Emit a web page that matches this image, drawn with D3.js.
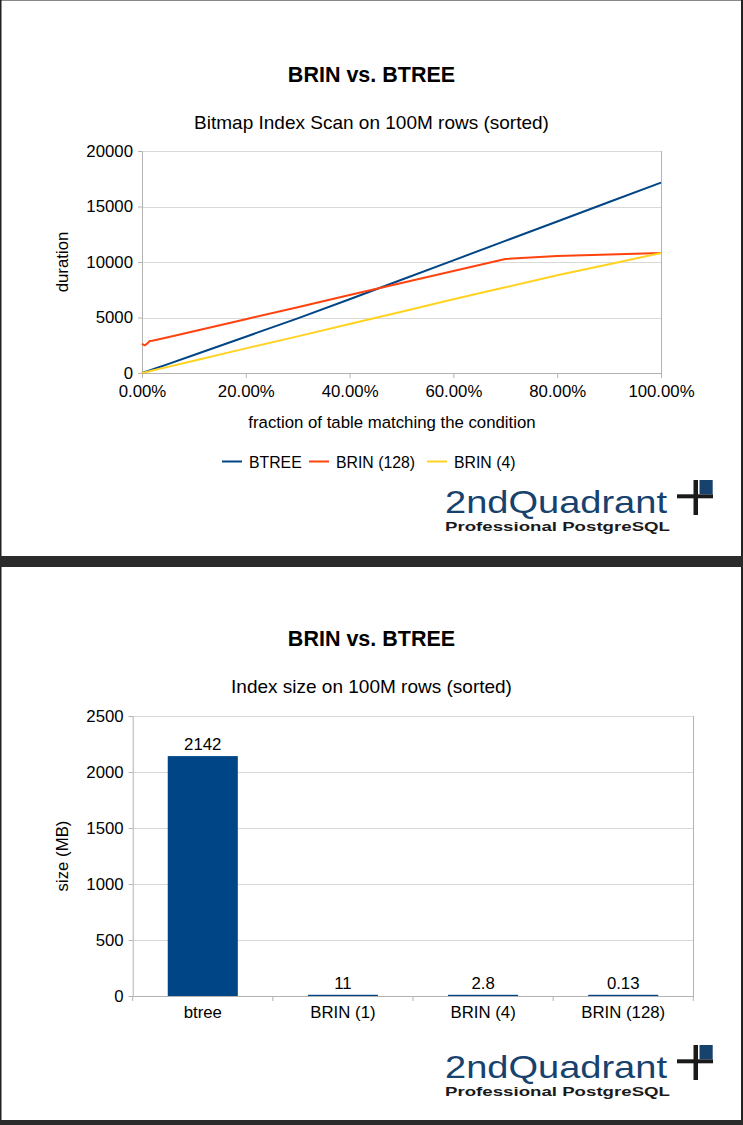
<!DOCTYPE html>
<html>
<head>
<meta charset="utf-8">
<script src="https://cdn.jsdelivr.net/npm/d3@7"></script>
<style>
  html, body { margin: 0; padding: 0; background: #fff; }
  svg { display: block; font-family: "Liberation Sans", Arial, sans-serif; }
</style>
</head>
<body>
<svg id="chart"></svg>
<script>
// line chart data (top slide)
const fractions = [0, 0.005, 0.01, 0.015, 0.02, 0.05, 0.1, 0.2, 0.3, 0.4, 0.5, 0.6, 0.7, 0.8, 0.9, 1.0];
const btree   = [0, 80, 160, 240, 320, 800, 1620, 3270, 4920, 6640, 8400, 10150, 11900, 13650, 15400, 17150];
const brin128 = [2620, 2490, 2650, 2880, 2900, 3225, 3770, 4850, 5930, 7020, 8100, 9190, 10270, 10540, 10680, 10810];
const brin4   = [0, 55, 110, 165, 220, 550, 1110, 2220, 3300, 4410, 5520, 6640, 7720, 8800, 9800, 10810];
const durationTicks = [0, 5000, 10000, 15000, 20000];
const fractionTicks = [0, 0.2, 0.4, 0.6, 0.8, 1.0];
const seriesNames = ['BTREE', 'BRIN (128)', 'BRIN (4)'];

// bar chart data (bottom slide)
const indexNames = ['btree', 'BRIN (1)', 'BRIN (4)', 'BRIN (128)'];
const indexSizes = [2142, 11, 2.8, 0.13];
const sizeLabels = ['2142', '11', '2.8', '0.13'];
const sizeTicks = [0, 500, 1000, 1500, 2000, 2500];

const W = 743, H = 1125;
const colors = ['#004586', '#ff420e', '#ffd320'];
const gridColor = '#d9d9d9';
const axisColor = '#b3b3b3';
const fs = 16.8;

const svg = d3.select('#chart').attr('width', W).attr('height', H);

// slide frames
svg.append('rect').attr('x', 0).attr('y', 0).attr('width', W).attr('height', H).attr('fill', '#fff');
svg.append('rect').attr('x', 0).attr('y', 0).attr('width', W).attr('height', 1).attr('fill', '#888');
svg.append('rect').attr('x', 0).attr('y', 0).attr('width', 1.5).attr('height', H).attr('fill', '#222');
svg.append('rect').attr('x', 741).attr('y', 0).attr('width', 2).attr('height', H).attr('fill', '#222');
svg.append('rect').attr('x', 0).attr('y', 556).attr('width', W).attr('height', 11).attr('fill', '#2b2b2b');
svg.append('rect').attr('x', 0).attr('y', 1120).attr('width', W).attr('height', 5).attr('fill', '#2b2b2b');

function titles(title, subtitle, y0) {
  svg.append('text').attr('x', 371.5).attr('y', y0)
    .attr('text-anchor', 'middle').attr('font-size', 21.5).attr('font-weight', 'bold')
    .attr('fill', '#000').text(title);
  svg.append('text').attr('x', 371.5).attr('y', y0 + 47)
    .attr('text-anchor', 'middle').attr('font-size', 19)
    .attr('fill', '#000').text(subtitle);
}

function logo(y0) {
  const g = svg.append('g').attr('transform', `translate(0,${y0})`);
  g.append('text').attr('x', 445).attr('y', 33)
    .attr('font-size', 31.5)
    .attr('textLength', 222).attr('lengthAdjust', 'spacingAndGlyphs')
    .attr('fill', '#17426e').text('2ndQuadrant');
  g.append('text').attr('x', 445).attr('y', 51)
    .attr('font-size', 13.5).attr('font-weight', 'bold')
    .attr('textLength', 225).attr('lengthAdjust', 'spacingAndGlyphs')
    .attr('fill', '#1a1a1a').text('Professional PostgreSQL');
  g.append('rect').attr('x', 693.5).attr('y', 0).attr('width', 4.5).attr('height', 35).attr('fill', '#1a1a1a');
  g.append('rect').attr('x', 677).attr('y', 14.3).attr('width', 36).attr('height', 4).attr('fill', '#1a1a1a');
  g.append('rect').attr('x', 699.5).attr('y', 0).attr('width', 13.2).attr('height', 14.3).attr('fill', '#17426e');
}

function styleAxis(g) {
  g.select('.domain').attr('stroke', axisColor).attr('stroke-width', 1);
  g.selectAll('.tick line').attr('stroke', axisColor);
  g.selectAll('.tick text').attr('fill', '#000').attr('font-size', fs)
    .attr('font-family', '"Liberation Sans", Arial, sans-serif');
}

// ---------- top: line chart ----------
titles('BRIN vs. BTREE', 'Bitmap Index Scan on 100M rows (sorted)', 82);

const x = d3.scaleLinear().domain([0, 1]).range([142, 661]);
const y = d3.scaleLinear().domain([0, 20000]).range([373, 151]);

svg.append('g').selectAll('line').data(durationTicks).enter().append('line')
  .attr('x1', 142).attr('x2', 661)
  .attr('y1', d => Math.round(y(d)) + 0.5).attr('y2', d => Math.round(y(d)) + 0.5)
  .attr('stroke', gridColor);
svg.append('line').attr('x1', 661.5).attr('x2', 661.5).attr('y1', 151).attr('y2', 373)
  .attr('stroke', axisColor);

svg.append('g').attr('transform', 'translate(142,0)')
  .call(d3.axisLeft(y).tickValues(durationTicks).tickSize(4).tickPadding(5).tickFormat(d3.format('d')))
  .call(styleAxis);
svg.append('g').attr('transform', 'translate(0,373)')
  .call(d3.axisBottom(x).tickValues(fractionTicks).tickSize(5).tickPadding(7).tickFormat(d3.format('.2%')))
  .call(styleAxis);

const line = d3.line().x((d, i) => x(fractions[i])).y(d => y(d));
[btree, brin128, brin4].forEach((s, i) => {
  svg.append('path').datum(s).attr('d', line)
    .attr('fill', 'none').attr('stroke', colors[i]).attr('stroke-width', 2)
    .attr('stroke-linejoin', 'round');
});

svg.append('text').attr('x', 62).attr('y', 262).attr('transform', 'rotate(-90,62,262)')
  .attr('text-anchor', 'middle').attr('dy', '0.35em').attr('font-size', fs).text('duration');
svg.append('text').attr('x', 392).attr('y', 428)
  .attr('text-anchor', 'middle').attr('font-size', fs).text('fraction of table matching the condition');

// legend
const legendX = [222, 309, 427];
seriesNames.forEach((name, i) => {
  svg.append('line').attr('x1', legendX[i]).attr('x2', legendX[i] + 20)
    .attr('y1', 461.5).attr('y2', 461.5).attr('stroke', colors[i]).attr('stroke-width', 2);
  svg.append('text').attr('x', legendX[i] + 27).attr('y', 462).attr('dy', '0.35em')
    .attr('font-size', 15.8).text(name);
});

logo(480);

// ---------- bottom: bar chart ----------
titles('BRIN vs. BTREE', 'Index size on 100M rows (sorted)', 646);

const xb = d3.scaleBand().domain(indexNames).range([132.7, 693.3]).paddingInner(0.5).paddingOuter(0.25);
const yb = d3.scaleLinear().domain([0, 2500]).range([996, 716]);

svg.append('g').selectAll('line').data(sizeTicks).enter().append('line')
  .attr('x1', 132.7).attr('x2', 693.3)
  .attr('y1', d => Math.round(yb(d)) + 0.5).attr('y2', d => Math.round(yb(d)) + 0.5)
  .attr('stroke', gridColor);
svg.append('line').attr('x1', 693.5).attr('x2', 693.5).attr('y1', 716).attr('y2', 996)
  .attr('stroke', axisColor);

svg.append('g').attr('transform', 'translate(132.7,0)')
  .call(d3.axisLeft(yb).tickValues(sizeTicks).tickSize(4).tickPadding(5).tickFormat(d3.format('d')))
  .call(styleAxis);

const xAxisB = svg.append('g').attr('transform', 'translate(0,996)')
  .call(d3.axisBottom(xb).tickSize(0).tickPadding(10))
  .call(styleAxis);
// category boundary ticks
const boundaries = indexNames.map(d => xb(d) - xb.step() * 0.25).concat([693.3]);
xAxisB.selectAll('.bound').data(boundaries).enter().append('line')
  .attr('x1', d => d).attr('x2', d => d).attr('y1', 0).attr('y2', 5)
  .attr('stroke', axisColor);

svg.append('g').selectAll('rect').data(indexSizes).enter().append('rect')
  .attr('x', (d, i) => xb(indexNames[i]))
  .attr('width', xb.bandwidth())
  .attr('y', d => Math.min(yb(d), 994.8))
  .attr('height', d => Math.max(996 - yb(d), 1.2))
  .attr('fill', '#004586');

svg.append('g').selectAll('text').data(indexSizes).enter().append('text')
  .attr('x', (d, i) => xb(indexNames[i]) + xb.bandwidth() / 2)
  .attr('y', d => Math.min(yb(d), 994.8) - 6)
  .attr('text-anchor', 'middle').attr('font-size', fs)
  .text((d, i) => sizeLabels[i]);

svg.append('text').attr('x', 62).attr('y', 856).attr('transform', 'rotate(-90,62,856)')
  .attr('text-anchor', 'middle').attr('dy', '0.35em').attr('font-size', fs).text('size (MB)');

logo(1045);
</script>
</body>
</html>
